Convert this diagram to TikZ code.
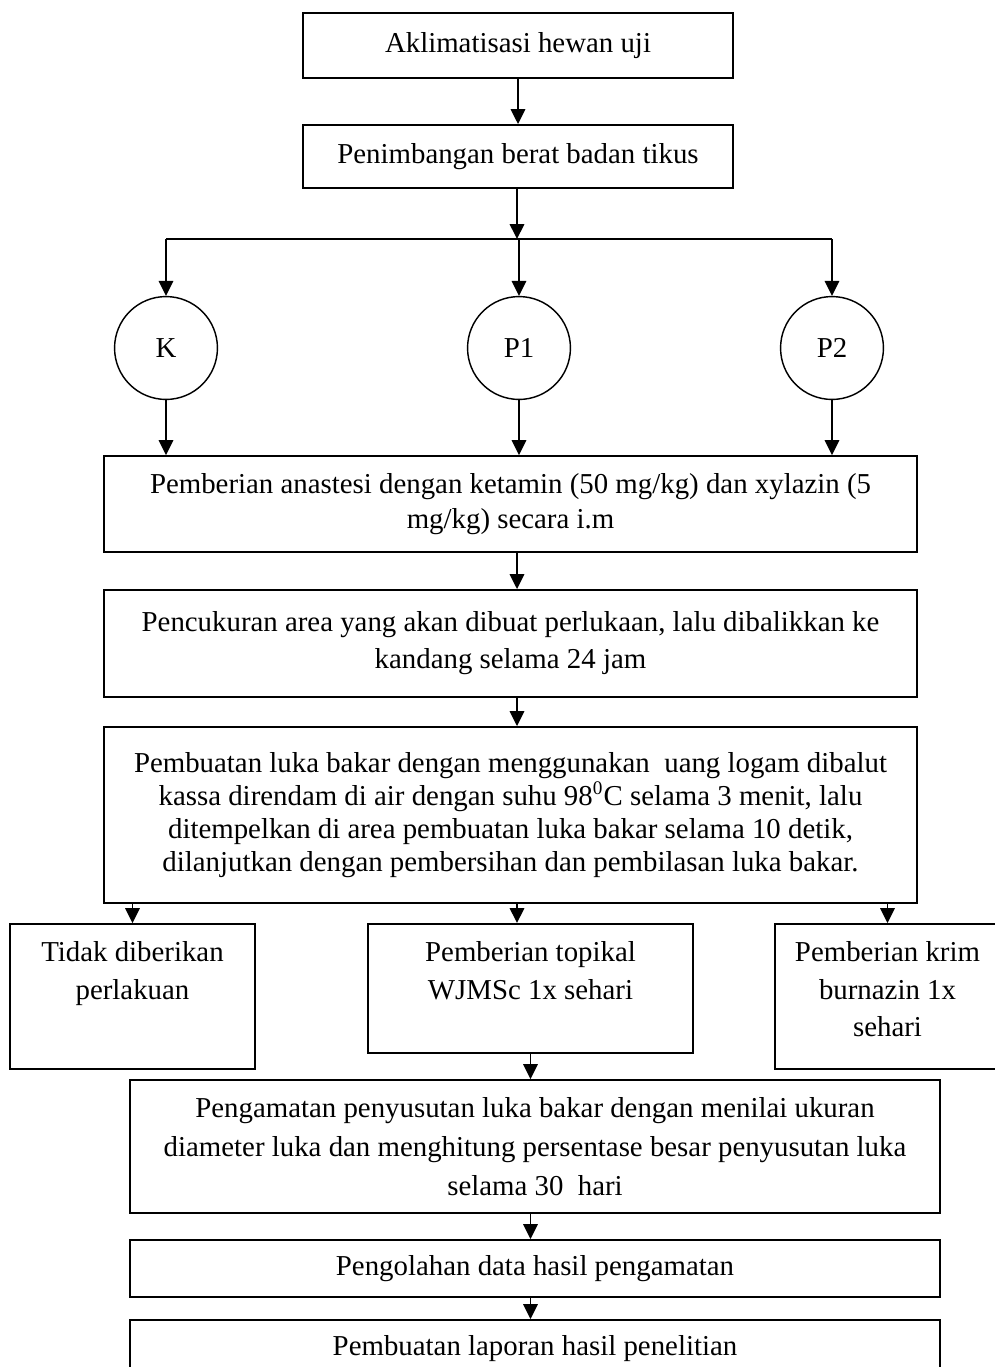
\documentclass[tikz,border=0pt]{standalone}
\usepackage{fontspec}
\setmainfont{Liberation Serif}
\usetikzlibrary{arrows.meta, positioning}

\tikzset{
  kotak/.style={draw, line width=0.8pt, inner sep=0pt, align=center, font=\fontsize{12}{13.2}\selectfont},
  lingkaran/.style={draw, circle, line width=0.6pt, minimum size=42.8pt, inner sep=0pt, font=\fontsize{12}{13.2}\selectfont},
  teks/.style={inner sep=0pt, align=center, font=\fontsize{12}{13.2}\selectfont},
  panah/.style={-{Triangle[length=6.2pt,width=6pt]}, line width=0.8pt}
}

\begin{document}
\begin{tikzpicture}[x=0.416pt, y=-0.416pt]
\useasboundingbox (0,0) rectangle (995,1367);

% tahap awal
\node[kotak, minimum width=178.5pt, minimum height=27pt] (aklim) at (518,45.5) {Aklimatisasi hewan uji};
\node[kotak, minimum width=178.9pt, minimum height=26.2pt] (timbang) at (518,156.5) {Penimbangan berat badan tikus};
\coordinate (cabang) at (517,239);

% kelompok
\node[lingkaran] (k) at (166,348) {K};
\node[lingkaran] (p1) at (519,348) {P1};
\node[lingkaran] (p2) at (832,348) {P2};

\node[kotak, minimum width=338.2pt, minimum height=39.9pt] (anastesi) at (510.5,504) {Pemberian anastesi dengan ketamin (50 mg/kg) dan xylazin (5\\[1.4pt] mg/kg) secara i.m};
\node[kotak, minimum width=338.2pt, minimum height=44.5pt] (cukur) at (510.5,643.5) {Pencukuran area yang akan dibuat perlukaan, lalu dibalikkan ke\\[2.2pt] kandang selama 24 jam};
\node[kotak, minimum width=338.2pt, minimum height=73.2pt] (luka) at (510.5,815) {Pembuatan luka bakar dengan menggunakan\ \ uang logam dibalut\\[0.6pt] kassa direndam di air dengan suhu 98\textsuperscript{0}C selama 3 menit, lalu\\[0.6pt] ditempelkan di area pembuatan luka bakar selama 10 detik,\\[0.6pt] dilanjutkan dengan pembersihan dan pembilasan luka bakar.};

% perlakuan
\node[kotak, minimum width=101.9pt, minimum height=60.3pt] (tidak) at (132.5,996.5) {};
\node[kotak, minimum width=135.2pt, minimum height=53.7pt] (topikal) at (530.5,988.5) {};
\node[kotak, minimum width=93.6pt, minimum height=60.3pt] (krim) at (887.5,996.5) {};
\node[teks, below=7.6pt of tidak.north] (tidakT) {Tidak diberikan\\[2.4pt] perlakuan};
\node[teks, below=7.6pt of topikal.north] (topikalT) {Pemberian topikal\\[2.4pt] WJMSc 1x sehari};
\node[teks, below=7.6pt of krim.north] (krimT) {Pemberian krim\\[2.4pt] burnazin 1x\\[2.4pt] sehari};

% tahap akhir
\node[kotak, minimum width=337pt, minimum height=55.3pt] (amat) at (535,1146.5) {Pengamatan penyusutan luka bakar dengan menilai ukuran\\[3pt] diameter luka dan menghitung persentase besar penyusutan luka\\[3pt] selama 30\ \ hari};
\node[kotak, minimum width=337pt, minimum height=23.7pt] (olah) at (535,1268.5) {Pengolahan data hasil pengamatan};
\node[kotak, minimum width=337pt, minimum height=23.7pt] (lapor) at (535,1348.5) {Pembuatan laporan hasil penelitian};

\draw[panah] (aklim) -- (timbang);
\draw[panah] (timbang.south -| cabang) -- (cabang);
\draw[line width=0.8pt] (k.north |- cabang) -- (p2.north |- cabang);
\foreach \g in {k, p1, p2} {
  \draw[panah] (\g.north |- cabang) -- (\g.north);
  \draw[panah] (\g) -- (\g |- anastesi.north);
}
\draw[panah] (anastesi.south -| cabang) -- (cukur.north -| cabang);
\draw[panah] (cukur.south -| cabang) -- (luka.north -| cabang);
\draw[panah] (luka.south -| tidak) -- (tidak.north);
\draw[panah] (luka.south -| cabang) -- (topikal.north -| cabang);
\draw[panah] (luka.south -| krim) -- (krim.north);
\draw[panah] (topikal.south) -- (topikal.south |- amat.north);
\draw[panah] (amat.south -| topikal) -- (olah.north -| topikal);
\draw[panah] (olah.south -| topikal) -- (lapor.north -| topikal);
\end{tikzpicture}
\end{document}
